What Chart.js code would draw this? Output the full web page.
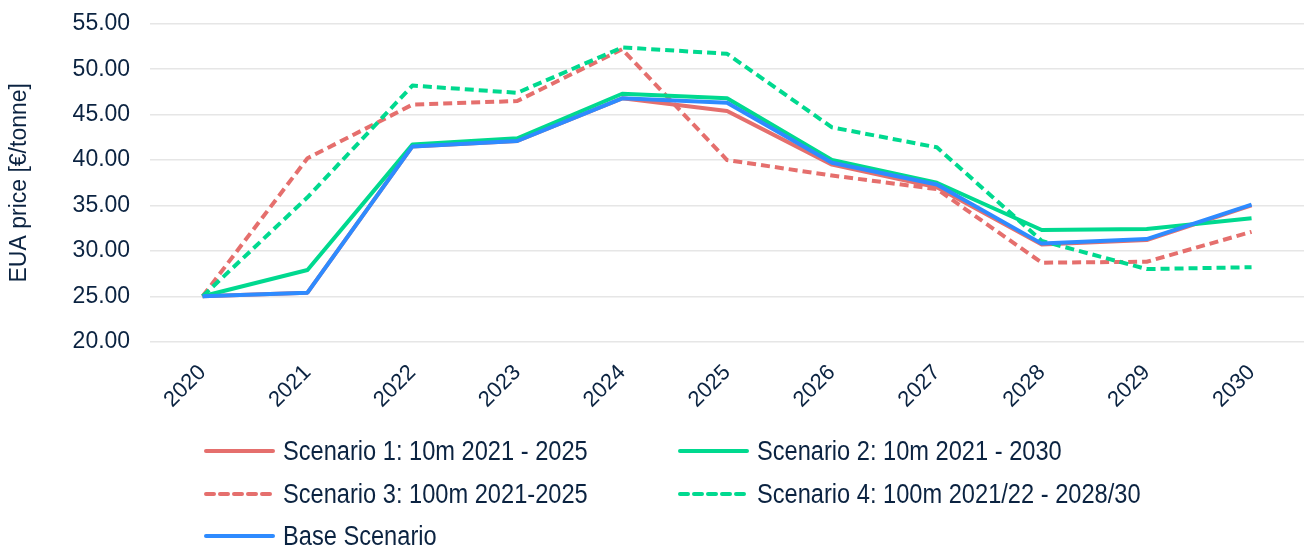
<!DOCTYPE html>
<html>
<head>
<meta charset="utf-8">
<script src="https://cdn.jsdelivr.net/npm/chart.js@4.4.1/dist/chart.umd.min.js"></script>
<style>
  html, body { margin: 0; padding: 0; background: #ffffff; }
  #wrap { position: relative; width: 1304px; height: 547px; overflow: hidden; }
  #chartBox { position: absolute; left: 0; top: -10px; width: 1304px; height: 445px; }
  #legend { position: absolute; left: 0; top: 0; width: 1304px; height: 547px; pointer-events: none;
            font-family: "Liberation Sans", Arial, sans-serif; color: #0b2341; }
  .item { position: absolute; display: flex; align-items: center; height: 30px; }
  .item svg { display: block; margin-right: 8px; flex: none; }
  .item span { display: inline-block; font-size: 27px; line-height: 30px; white-space: nowrap;
               transform: scaleX(0.875); transform-origin: left center; }
</style>
</head>
<body>
<div id="wrap">
  <div id="chartBox"><canvas id="c"></canvas></div>
  <div id="legend"></div>
</div>
<script>
// Years on the horizontal axis
const years = ['2020','2021','2022','2023','2024','2025','2026','2027','2028','2029','2030'];

// EUA price per scenario, €/tonne
const scenario1 = [25.0, 25.4, 41.5, 42.1, 46.8, 45.4, 39.5, 37.0, 30.7, 31.2, 35.0];
const scenario2 = [25.0, 27.9, 41.7, 42.4, 47.3, 46.8, 40.0, 37.5, 32.3, 32.4, 33.6];
const scenario3 = [25.0, 40.2, 46.1, 46.5, 52.2, 40.0, 38.3, 36.8, 28.7, 28.8, 32.1];
const scenario4 = [25.0, 35.9, 48.2, 47.4, 52.4, 51.7, 43.6, 41.4, 31.1, 28.0, 28.2];
const baseScenario = [25.0, 25.4, 41.5, 42.1, 46.8, 46.3, 39.7, 37.3, 30.8, 31.3, 35.1];

// Y axis range and step
const yMin = 20, yMax = 55, yStep = 5;

const RED = '#e56f6d';
const GREEN = '#00d98f';
const BLUE = '#2e8bff';
const TEXT = '#0b2341';
const FONT = '"Liberation Sans", Arial, sans-serif';

const series = [
  { label: 'Scenario 1: 10m 2021 - 2025', data: scenario1, color: RED, dashed: false, order: 4 },
  { label: 'Scenario 2: 10m 2021 - 2030', data: scenario2, color: GREEN, dashed: false, order: 1 },
  { label: 'Scenario 3: 100m 2021-2025', data: scenario3, color: RED, dashed: true, order: 3 },
  { label: 'Scenario 4: 100m 2021/22 - 2028/30', data: scenario4, color: GREEN, dashed: true, order: 2 },
  { label: 'Base Scenario', data: baseScenario, color: BLUE, dashed: false, order: 0 }
];

const chart = new Chart(document.getElementById('c'), {
  type: 'line',
  data: {
    labels: years,
    datasets: series.map(s => ({
      label: s.label,
      data: s.data,
      borderColor: s.color,
      backgroundColor: s.color,
      borderWidth: 4,
      borderDash: s.dashed ? [9, 5] : [],
      borderJoinStyle: 'round',
      pointRadius: 0,
      tension: 0,
      fill: false,
      order: s.order
    }))
  },
  options: {
    responsive: true,
    maintainAspectRatio: false,
    animation: false,
    layout: { padding: { top: 0, right: 0, bottom: 4, left: 6 } },
    plugins: { legend: { display: false }, tooltip: { enabled: false } },
    scales: {
      x: {
        offset: true,
        grid: { display: false, drawTicks: false },
        border: { display: false },
        ticks: {
          color: TEXT,
          font: { family: FONT, size: 22 },
          maxRotation: 45,
          minRotation: 45,
          padding: 18
        }
      },
      y: {
        min: yMin,
        max: yMax,
        grid: { color: '#e6e6e6', lineWidth: 1.5, drawTicks: false },
        border: { display: false },
        ticks: {
          stepSize: yStep,
          color: TEXT,
          font: { family: FONT, size: 23 },
          padding: 20,
          callback: v => Number(v).toFixed(2)
        },
        title: {
          display: true,
          text: 'EUA price [€/tonne]',
          color: TEXT,
          font: { family: FONT, size: 23 },
          padding: { top: 0, bottom: 19 }
        }
      }
    }
  }
});

// Two-column legend below the plot
const legendPos = [
  { x: 204, y: 436 }, { x: 678, y: 436 },
  { x: 204, y: 479 }, { x: 678, y: 479 },
  { x: 204, y: 521 }
];
const legend = document.getElementById('legend');
series.forEach((s, i) => {
  const el = document.createElement('div');
  el.className = 'item';
  el.style.left = legendPos[i].x + 'px';
  el.style.top = legendPos[i].y + 'px';
  const dash = s.dashed ? 'stroke-dasharray="8 6"' : '';
  el.innerHTML =
    '<svg width="71" height="10"><line x1="2" y1="5" x2="69" y2="5" stroke="' + s.color +
    '" stroke-width="4" stroke-linecap="round" ' + dash + '/></svg><span>' + s.label + '</span>';
  legend.appendChild(el);
});
</script>
</body>
</html>
